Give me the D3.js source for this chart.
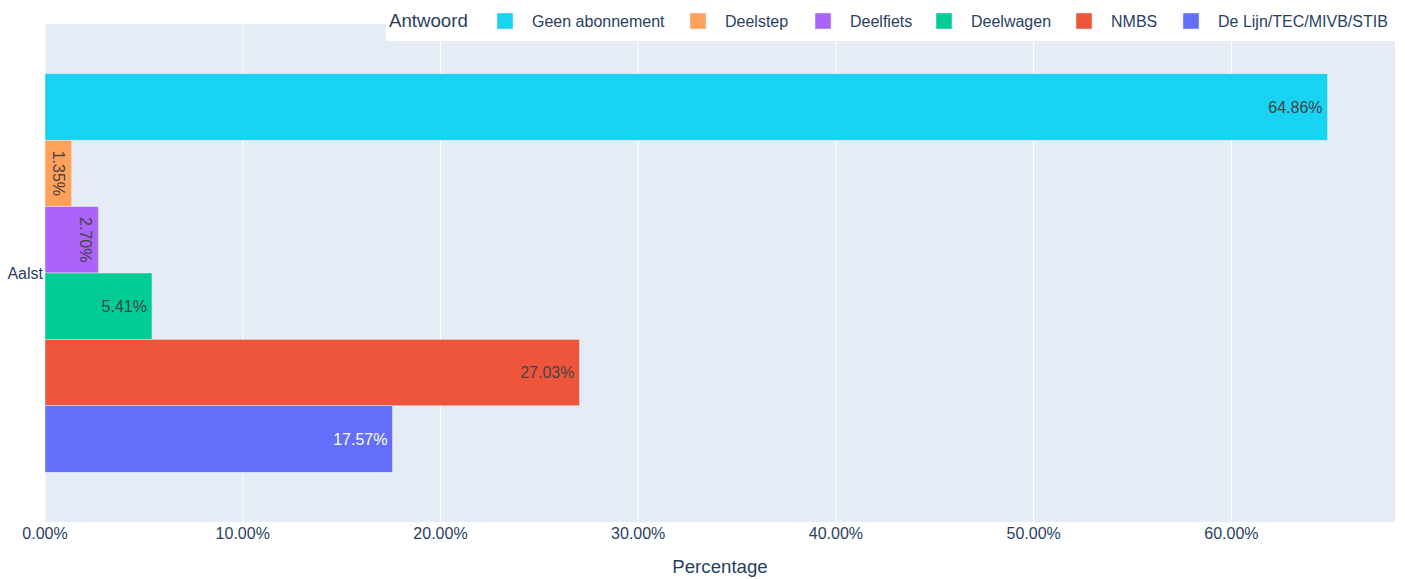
<!DOCTYPE html>
<html>
<head>
<meta charset="utf-8">
<script src="https://cdn.jsdelivr.net/npm/d3@7"></script>
<style>
  html, body { margin: 0; padding: 0; background: #fff; }
  svg text { font-family: "Liberation Sans", Arial, sans-serif; }
</style>
</head>
<body>
<svg id="chart" width="1405" height="579"></svg>
<script>
// Data
const categories = ["Aalst"];
const seriesNames = ["Geen abonnement", "Deelstep", "Deelfiets", "Deelwagen", "NMBS", "De Lijn/TEC/MIVB/STIB"];
const seriesValues = [64.86, 1.35, 2.70, 5.41, 27.03, 17.57];
const seriesColors = ["#19D3F3", "#FFA15A", "#AB63FA", "#00CC96", "#EF553B", "#636EFA"];
const xTicks = [0, 10, 20, 30, 40, 50, 60];

const W = 1405, H = 579;
const margin = { left: 45, right: 10, top: 24, bottom: 57 };
const plotW = W - margin.left - margin.right;
const plotH = H - margin.top - margin.bottom;
const fontColor = "#2a3f5f";

const svg = d3.select("#chart");

const x = d3.scaleLinear()
  .domain([0, d3.max(seriesValues) * 1.0526])
  .range([margin.left, margin.left + plotW]);

const yCat = d3.scaleBand()
  .domain(categories)
  .range([margin.top, margin.top + plotH])
  .paddingInner(0.2)
  .paddingOuter(0.1);

const ySeries = d3.scaleBand()
  .domain(seriesNames)
  .range([0, yCat.bandwidth()]);

// Plot background
svg.append("rect")
  .attr("x", margin.left).attr("y", margin.top)
  .attr("width", plotW).attr("height", plotH)
  .attr("fill", "#E5ECF6");

// Grid lines
svg.append("g").selectAll("line")
  .data(xTicks)
  .enter().append("line")
  .attr("x1", d => x(d)).attr("x2", d => x(d))
  .attr("y1", margin.top).attr("y2", margin.top + plotH)
  .attr("stroke", "#fff").attr("stroke-width", 1);

// Bars
const rows = seriesNames.map((name, i) => ({
  cat: categories[0], name, value: seriesValues[i], color: seriesColors[i]
}));

const barG = svg.append("g");
barG.selectAll("rect")
  .data(rows)
  .enter().append("rect")
  .attr("x", x(0))
  .attr("y", d => yCat(d.cat) + ySeries(d.name))
  .attr("width", d => x(d.value) - x(0))
  .attr("height", ySeries.bandwidth())
  .attr("fill", d => d.color)
  .attr("stroke", "#E5ECF6")
  .attr("stroke-width", 0.5);

// Bar labels (inside, at end; rotated when they don't fit)
rows.forEach(d => {
  const label = d.value.toFixed(2) + "%";
  const x0 = x(0), x1 = x(d.value);
  const yc = yCat(d.cat) + ySeries(d.name) + ySeries.bandwidth() / 2;
  const txtColor = d.color === "#636EFA" ? "#fff" : "#444";
  const t = barG.append("text")
    .attr("font-size", 16)
    .attr("fill", txtColor)
    .attr("dominant-baseline", "central")
    .text(label);
  const tw = t.node().getComputedTextLength();
  if (tw + 14 < x1 - x0) {
    t.attr("x", x1 - 5).attr("y", yc).attr("text-anchor", "end");
  } else {
    const cx = Math.max((x0 + x1) / 2, x1 - 13);
    t.attr("text-anchor", "middle")
      .attr("transform", `translate(${cx},${yc}) rotate(90)`);
  }
});

// X axis tick labels
svg.append("g").selectAll("text")
  .data(xTicks)
  .enter().append("text")
  .attr("x", d => x(d))
  .attr("y", 539)
  .attr("text-anchor", "middle")
  .attr("font-size", 16)
  .attr("fill", fontColor)
  .text(d => d.toFixed(2) + "%");

// X axis title
svg.append("text")
  .attr("x", margin.left + plotW / 2)
  .attr("y", 573)
  .attr("text-anchor", "middle")
  .attr("font-size", 18.67)
  .attr("fill", fontColor)
  .text("Percentage");

// Y category label
svg.append("g").selectAll("text")
  .data(categories)
  .enter().append("text")
  .attr("x", margin.left - 2)
  .attr("y", d => yCat(d) + yCat.bandwidth() / 2)
  .attr("dominant-baseline", "central")
  .attr("text-anchor", "end")
  .attr("font-size", 16)
  .attr("fill", fontColor)
  .text(d => d);

// Legend
const legend = svg.append("g");
legend.append("rect")
  .attr("x", 386).attr("y", 0)
  .attr("width", W - 386).attr("height", 41)
  .attr("fill", "#fff");
legend.append("text")
  .attr("x", 389).attr("y", 27)
  .attr("font-size", 18.67)
  .attr("fill", fontColor)
  .text("Antwoord");

const legendX = [497, 690, 815, 936, 1076, 1183];
seriesNames.forEach((name, i) => {
  legend.append("rect")
    .attr("x", legendX[i]).attr("y", 13)
    .attr("width", 16).attr("height", 16)
    .attr("fill", seriesColors[i])
    .attr("stroke", "#E5ECF6").attr("stroke-width", 0.5);
  legend.append("text")
    .attr("x", legendX[i] + 35).attr("y", 27)
    .attr("font-size", 16)
    .attr("fill", fontColor)
    .text(name);
});
</script>
</body>
</html>
